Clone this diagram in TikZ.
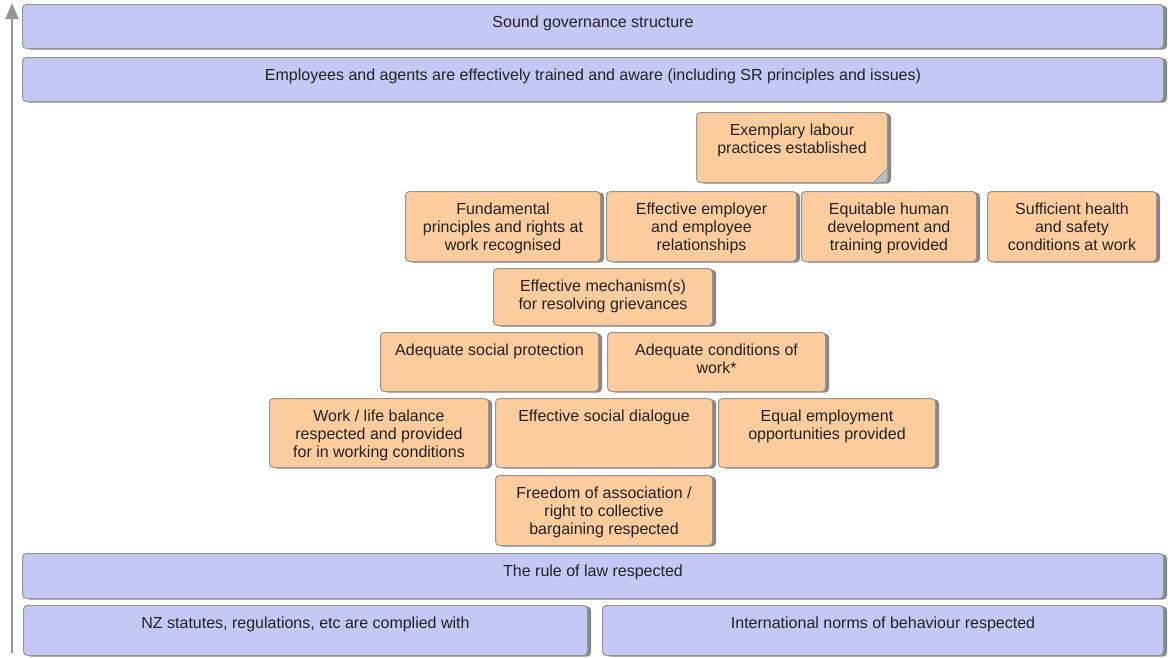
\documentclass[tikz,border=0pt]{standalone}
\usepackage{fontspec}
\setmainfont{Liberation Sans}
\usetikzlibrary{shadows,arrows.meta}
\definecolor{boxblue}{RGB}{197,200,245}
\definecolor{boxorange}{RGB}{255,204,158}
\definecolor{edgegrey}{RGB}{150,150,150}
\definecolor{shadegrey}{RGB}{135,135,135}
\definecolor{txt}{RGB}{34,34,34}
\tikzset{
  panel/.style={draw=edgegrey, line width=1pt, rounded corners=4pt,
    inner sep=0pt, anchor=north west,
    drop shadow={shadow xshift=3.5pt, shadow yshift=-1pt, fill=shadegrey, opacity=1}},
  bluebox/.style={panel, fill=boxblue},
  orangebox/.style={panel, fill=boxorange},
  lbl/.style={anchor=north, inner sep=0pt, align=center, text=txt,
    font=\fontsize{16}{18}\selectfont},
}
\newcommand{\bx}[7]{%
  % name, style, x1, y1, width, height, text
  \node[#2, minimum width=#5pt, minimum height=#6pt] (#1) at (#3,#4) {};
  \node[lbl] (#1-t) at ([yshift=-11pt]#1.north) {\strut #7};
}
\begin{document}
\begin{tikzpicture}[x=1pt, y=-1pt]
\useasboundingbox (0,0) rectangle (1168,657);
\fill[white] (0,0) rectangle (1168,657);

% vertical progression arrow
\coordinate (arrowfoot) at (12,653);
\coordinate (arrowtip) at (12,3);
\draw[edgegrey, line width=2pt, -{Triangle[length=16pt, width=13pt]}] (arrowfoot) -- (arrowtip);

% blue framework bands
\bx{gov}{bluebox}{22}{4}{1141}{44}{Sound governance structure}
\bx{staff}{bluebox}{22}{57}{1141}{44}{Employees and agents are effectively trained and aware (including SR principles and issues)}
\bx{law}{bluebox}{22}{553}{1141}{45}{The rule of law respected}
\bx{nz}{bluebox}{23}{605}{564}{50}{NZ statutes, regulations, etc are complied with}
\bx{intl}{bluebox}{602}{605}{561}{50}{International norms of behaviour respected}

% orange outcome boxes
\bx{exemplary}{orangebox}{696}{112}{191}{70}{Exemplary labour\\practices established}
\bx{fundamental}{orangebox}{405}{191}{195}{70}{Fundamental\\principles and rights at\\work recognised}
\bx{employer}{orangebox}{606}{191}{190}{70}{Effective employer\\and employee\\relationships}
\bx{equitable}{orangebox}{801}{191}{175}{70}{Equitable human\\development and\\training provided}
\bx{health}{orangebox}{987}{191}{169}{70}{Sufficient health\\and safety\\conditions at work}
\bx{mechanism}{orangebox}{493}{268}{219}{57}{Effective mechanism(s)\\for resolving grievances}
\bx{protection}{orangebox}{380}{332}{218}{59}{Adequate social protection}
\bx{conditions}{orangebox}{607}{332}{218}{59}{Adequate conditions of\\work*}
\bx{worklife}{orangebox}{269}{398}{219}{69}{Work / life balance\\respected and provided\\for in working conditions}
\bx{dialogue}{orangebox}{495}{398}{217}{69}{Effective social dialogue}
\bx{equal}{orangebox}{718}{398}{217}{69}{Equal employment\\opportunities provided}
\bx{freedom}{orangebox}{495}{475}{217}{70}{Freedom of association /\\right to collective\\bargaining respected}

% folded corner on the top outcome
\filldraw[fill=black!25, draw=edgegrey, line width=0.8pt]
  ([xshift=-15pt]exemplary.south east) -- ([yshift=15pt]exemplary.south east)
  -- ([xshift=-1pt,yshift=1pt]exemplary.south east) -- cycle;
\end{tikzpicture}
\end{document}
